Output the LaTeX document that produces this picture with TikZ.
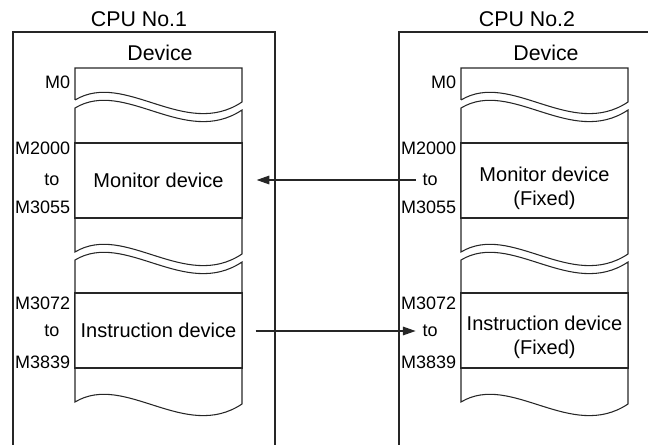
\documentclass[tikz,border=0pt]{standalone}
\usepackage{fontspec}
\setmainfont{Liberation Sans}
\usetikzlibrary{arrows.meta,positioning}
\tikzset{
  frame/.style={line width=0.8pt, black!85},
  devline/.style={line width=0.8pt, black!85},
  section/.style={rectangle, draw=black!85, line width=0.8pt, minimum width=125.5pt, minimum height=56.25pt, inner sep=1pt, align=center, font=\fontsize{15}{18}\selectfont},
  addr/.style={anchor=east, inner sep=2pt, font=\fontsize{13.5}{16}\selectfont},
  tolbl/.style={inner sep=2pt, font=\fontsize{13.5}{16}\selectfont},
  title/.style={inner sep=1pt},
  arrow/.style={-{Triangle[length=9.5pt, width=6.5pt]}, line width=0.8pt, black!85}
}

\begin{document}
\begin{tikzpicture}[x=0.75pt, y=-0.75pt, font=\fontsize{16}{19}\selectfont]
  \useasboundingbox (0,0) rectangle (648,445);
  % CPU frames
  \draw[frame] (13,445) -- (13,32) -- (275,32) -- (275,445);
  \draw[frame] (399,445) -- (399,32) -- (648,32);
  \node[title] (cpu1) at (139,19) {CPU No.1};
  \node[title] (cpu2) at (527,19) {CPU No.2};
  % device columns with breaks
  \foreach \dx in {0,386} {
    \node[title] at (160+\dx,53) {Device};
    \draw[devline] (75+\dx,100) -- (75+\dx,68) -- (242+\dx,68) -- (242+\dx,102)
      .. controls (185+\dx,140) and (125+\dx,70) .. (75+\dx,100);
    \draw[devline] (75+\dx,108) .. controls (125+\dx,78) and (185+\dx,148) .. (242+\dx,110)
      -- (242+\dx,254) .. controls (185+\dx,292) and (125+\dx,222) .. (75+\dx,252) -- cycle;
    \draw[devline] (75+\dx,260) .. controls (125+\dx,230) and (185+\dx,300) .. (242+\dx,262)
      -- (242+\dx,404) .. controls (185+\dx,442) and (125+\dx,372) .. (75+\dx,402) -- cycle;
    \node[addr] at (73+\dx,82) {M0};
    \node[addr] at (73+\dx,148) {M2000};
    \node[addr] at (73+\dx,207) {M3055};
    \node[addr] at (73+\dx,303) {M3072};
    \node[addr] at (73+\dx,362) {M3839};
  }
  % device ranges
  \node[section] (mon1) at (158.5,180.5) {Monitor device};
  \node[section] (ins1) at (158.5,330.5) {Instruction device};
  \node[section, label={[yshift=-6pt, align=center, font=\fontsize{15}{18}\selectfont]center:Monitor device\\(Fixed)}] (mon2) at (544.5,180.5) {};
  \node[section, label={[yshift=-5pt, align=center, font=\fontsize{15}{18}\selectfont]center:Instruction device\\(Fixed)}] (ins2) at (544.5,330.5) {};
  \node[tolbl] (to1a) at (52,180) {to};
  \node[tolbl] (to1b) at (52,331) {to};
  \node[tolbl] (to2a) at (430,180) {to};
  \node[tolbl] (to2b) at (430,331) {to};
  \draw[arrow, shorten <=3pt, shorten >=10.5pt] (to2a.west) -- (to2a.west -| mon1.east);
  \draw[arrow, shorten <=9.75pt, shorten >=3pt] (ins1.east |- to2b.west) -- (to2b.west);
\end{tikzpicture}
\end{document}
